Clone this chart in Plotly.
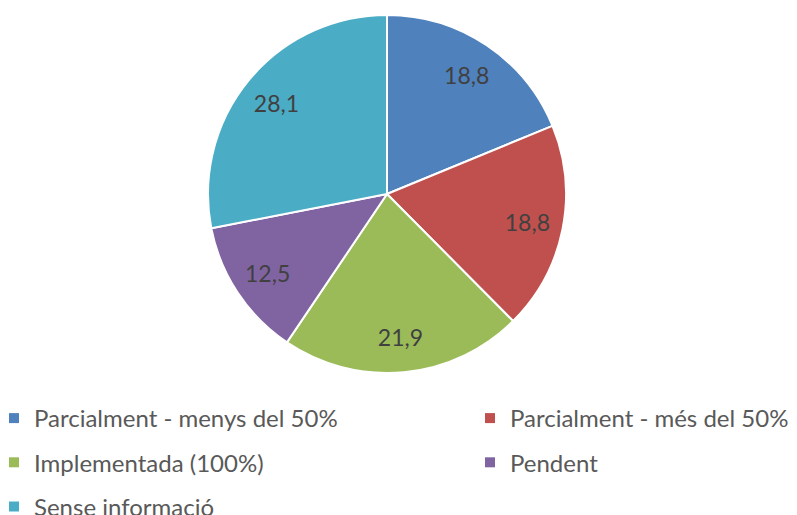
import plotly.graph_objects as go

categories = ["Parcialment - menys del 50%", "Parcialment - més del 50%",
              "Implementada (100%)", "Pendent", "Sense informació"]
values = [18.8, 18.8, 21.9, 12.5, 28.1]
colors = ["#4F81BD", "#C0504D", "#9BBB59", "#8064A2", "#4BACC6"]
legend_ref = ["legend", "legend2", "legend", "legend2", "legend"]

FONT = "Lato"
W, H = 797, 515
dom = dict(x=[208 / W, 566 / W], y=[(H - 373) / H, (H - 15) / H])

fig = go.Figure()
# slices
fig.add_trace(go.Pie(
    labels=categories, values=values, sort=False, direction="clockwise", rotation=0,
    marker=dict(colors=colors, line=dict(color="white", width=2)),
    textinfo="none", showlegend=False, hoverinfo="label+value", domain=dom,
))
# value labels, placed in the outer ring of the same pie
fig.add_trace(go.Pie(
    labels=categories, values=values, sort=False, direction="clockwise", rotation=0,
    hole=0.6, marker=dict(colors=["rgba(0,0,0,0)"] * len(values), line=dict(width=0)),
    texttemplate="%{value:.1f}", textposition="inside", insidetextorientation="horizontal",
    textfont=dict(family=FONT, size=23, color="#404040"),
    showlegend=False, hoverinfo="skip", domain=dom,
))

for cat, col, lg in zip(categories, colors, legend_ref):
    fig.add_trace(go.Scatter(
        x=[None], y=[None], mode="markers", name=cat, legend=lg, legendgroup=cat,
        marker=dict(symbol="square", size=10, color=col),
    ))

legend_common = dict(
    orientation="v", font=dict(family=FONT, size=24, color="#595959"),
    bgcolor="rgba(0,0,0,0)", yanchor="top", xanchor="left", tracegroupgap=10,
    itemclick=False, itemdoubleclick=False,
)
fig.update_layout(
    width=W, height=H,
    margin=dict(l=0, r=0, t=0, b=0, autoexpand=False),
    paper_bgcolor="white", plot_bgcolor="white",
    separators=",.",
    xaxis=dict(visible=False), yaxis=dict(visible=False),
    legend=dict(x=-6 / W, y=1 - 396 / H, **legend_common),
    legend2=dict(x=470 / W, y=1 - 396 / H, **legend_common),
)

fig.write_html("out.html", config={"displayModeBar": False},
               post_script="document.body.style.margin='0';")
